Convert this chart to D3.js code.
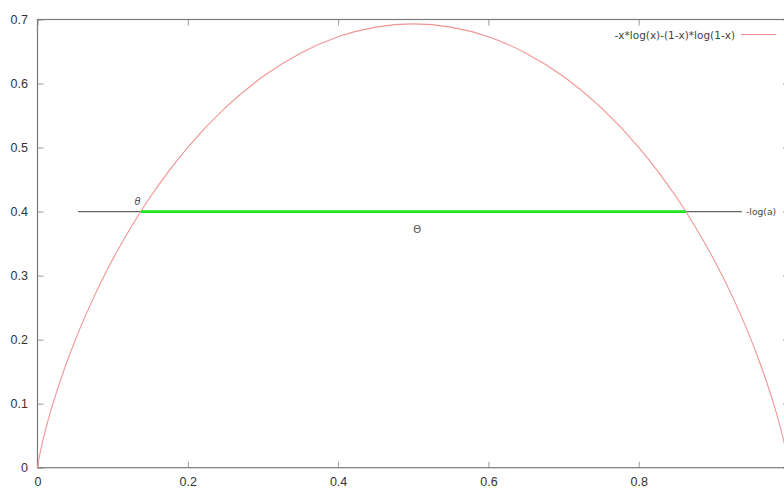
<!DOCTYPE html>
<html>
<head>
<meta charset="utf-8">
<script src="https://cdn.jsdelivr.net/npm/d3@7"></script>
<style>
  html, body { margin: 0; padding: 0; background: #fff; }
  svg { display: block; font-family: "Liberation Sans", Arial, sans-serif; }
</style>
</head>
<body>
<svg id="chart" width="784" height="489"></svg>
<script>
// Binary entropy in nats: -x*log(x)-(1-x)*log(1-x)
const xSamples = [0, 0.0025, 0.005, 0.01, 0.02, 0.03, 0.04, 0.05, 0.075, 0.1, 0.125, 0.15, 0.175,
  0.2, 0.25, 0.3, 0.35, 0.4, 0.45, 0.5, 0.55, 0.6, 0.65, 0.7, 0.75, 0.8, 0.825, 0.85, 0.875,
  0.9, 0.925, 0.95, 0.96, 0.97, 0.98, 0.99, 0.995, 0.9975, 1];
const entropyValues = [0, 0.0175, 0.0315, 0.0560, 0.0980, 0.1347, 0.1679, 0.1985, 0.2664, 0.3251,
  0.3768, 0.4227, 0.4637, 0.5004, 0.5623, 0.6109, 0.6474, 0.6730, 0.6881, 0.6931, 0.6881, 0.6730,
  0.6474, 0.6109, 0.5623, 0.5004, 0.4637, 0.4227, 0.3768, 0.3251, 0.2664, 0.1985, 0.1679, 0.1347,
  0.0980, 0.0560, 0.0315, 0.0175, 0];

// Threshold level -log(a) and its extent; the green part lies between the two roots θ and 1-θ
const levelValue = 0.4;
const levelExtent = [0.054, 0.9375];
const theta = 0.1373;
const greenExtent = [theta, 1 - theta];

const xTicks = [0, 0.2, 0.4, 0.6, 0.8];
const xTickLabels = ["0", "0.2", "0.4", "0.6", "0.8"];
const yTicks = [0, 0.1, 0.2, 0.3, 0.4, 0.5, 0.6, 0.7];
const yTickLabels = ["0", "0.1", "0.2", "0.3", "0.4", "0.5", "0.6", "0.7"];

const legendLabel = "-x*log(x)-(1-x)*log(1-x)";
const levelLabel = "-log(a)";

const svg = d3.select("#chart");
const plotLeft = 37.5, plotRight = 789, plotTop = 19.5, plotBottom = 467.7;

const x = d3.scaleLinear().domain([0, 1]).range([plotLeft, plotRight]);
const y = d3.scaleLinear().domain([0, 0.7]).range([plotBottom, plotTop]);

const tickColor = "#9a9a9a";
const textColor = "#333";
const labelFont = "DejaVu Sans, Verdana, sans-serif";

// Inward ticks on all four sides
const axB = d3.axisBottom(x).tickValues(xTicks).tickSizeInner(-6).tickSizeOuter(0)
  .tickFormat((d, i) => xTickLabels[i]).tickPadding(9.5);
const axT = d3.axisTop(x).tickValues(xTicks).tickSizeInner(-6).tickSizeOuter(0).tickFormat("");
const axL = d3.axisLeft(y).tickValues(yTicks).tickSizeInner(-6).tickSizeOuter(0)
  .tickFormat((d, i) => yTickLabels[i]).tickPadding(9.5);
const axR = d3.axisRight(y).tickValues(yTicks).tickSizeInner(-6).tickSizeOuter(0).tickFormat("");

function styleAxis(g) {
  g.select(".domain").remove();
  g.selectAll(".tick line").attr("stroke", tickColor).attr("stroke-width", 1);
  g.selectAll(".tick text").attr("fill", textColor).attr("font-size", 12.5)
    .attr("font-family", "Liberation Sans, Arial, sans-serif");
}

svg.append("g").attr("transform", `translate(0,${plotBottom})`).call(axB).call(styleAxis);
svg.append("g").attr("transform", `translate(0,${plotTop})`).call(axT).call(styleAxis);
svg.append("g").attr("transform", `translate(${plotLeft},0)`).call(axL).call(styleAxis);
svg.append("g").attr("transform", `translate(${plotRight},0)`).call(axR).call(styleAxis);

// Plot frame
svg.append("rect")
  .attr("x", plotLeft).attr("y", plotTop)
  .attr("width", plotRight - plotLeft).attr("height", plotBottom - plotTop)
  .attr("fill", "none").attr("stroke", "#7a7a7a").attr("stroke-width", 1.2);

// Level line -log(a)
svg.append("line")
  .attr("x1", x(levelExtent[0])).attr("x2", x(levelExtent[1]))
  .attr("y1", y(levelValue)).attr("y2", y(levelValue))
  .attr("stroke", "#666").attr("stroke-width", 1.1);

// Entropy curve
const pts = xSamples.map((v, i) => [v, entropyValues[i]]);
svg.append("path")
  .datum(pts)
  .attr("fill", "none")
  .attr("stroke", "#f29494")
  .attr("stroke-width", 1.1)
  .attr("d", d3.line().x(d => x(d[0])).y(d => y(d[1])).curve(d3.curveMonotoneX));

// Segment between the two roots
svg.append("line")
  .attr("x1", x(greenExtent[0])).attr("x2", x(greenExtent[1]))
  .attr("y1", y(levelValue)).attr("y2", y(levelValue))
  .attr("stroke", "#1ee61e").attr("stroke-width", 2.6);

// Annotations
svg.append("text")
  .attr("x", x(theta) - 3).attr("y", y(levelValue) - 7)
  .attr("text-anchor", "middle").attr("font-size", 10).attr("font-style", "italic")
  .attr("font-family", labelFont).attr("fill", "#555").text("θ");
svg.append("text")
  .attr("x", x(0.5) + 4).attr("y", y(levelValue) + 21)
  .attr("text-anchor", "middle").attr("font-size", 10)
  .attr("font-family", labelFont).attr("fill", "#555").text("Θ");
svg.append("text")
  .attr("x", x(levelExtent[1]) + 4).attr("y", y(levelValue) + 3.5)
  .attr("font-size", 9.2).attr("font-family", labelFont).attr("fill", "#444").text(levelLabel);

// Legend
svg.append("text")
  .attr("x", 735).attr("y", 38.5)
  .attr("text-anchor", "end").attr("font-size", 10.5).attr("font-family", labelFont)
  .attr("fill", "#444").text(legendLabel);
svg.append("line")
  .attr("x1", 741).attr("x2", 776).attr("y1", 34.5).attr("y2", 34.5)
  .attr("stroke", "#f29494").attr("stroke-width", 1.1);
</script>
</body>
</html>
